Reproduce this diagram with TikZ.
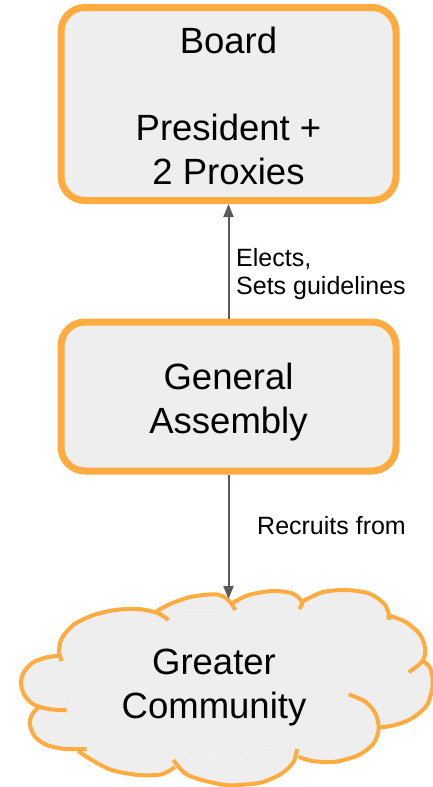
\documentclass[tikz,border=0pt]{standalone}
\usepackage{fontspec}
\setmainfont{Liberation Sans}
\usetikzlibrary{arrows.meta}
\definecolor{boxorange}{HTML}{FFAB40}
\definecolor{boxfill}{HTML}{EEEEEE}
\definecolor{arrgray}{HTML}{595959}
\begin{document}
\begin{tikzpicture}[x=1pt,y=-1pt,
  box/.style={draw=boxorange, fill=boxfill, line width=7pt, rounded corners=24pt, rectangle, minimum width=335pt, inner sep=0pt},
  bigtxt/.style={align=center, font=\fontsize{36.5pt}{44pt}\selectfont, inner sep=0pt},
  smalltxt/.style={align=left, font=\fontsize{25pt}{28pt}\selectfont, inner sep=0pt},
  conn/.style={draw=arrgray, line width=2pt, -{Triangle[length=13pt,width=10pt]}},
  puff/.style={draw=boxorange, line width=4pt},
  pufffill/.style={fill=boxfill},
]
\useasboundingbox (0,0) rectangle (432,787);

% boxes
\node[box, minimum height=193pt] (board) at (228.5,104) {};
\node[bigtxt, anchor=north] (boardtxt) at (228.5,26.5) {Board\\[43pt]President +\\2 Proxies};
\node[box, minimum height=149pt] (ga) at (228.5,396.5) {};
\node[bigtxt, anchor=north] (gatxt) at (228.5,362.4) {General\\Assembly};

% cloud fill
\def\pA{(61.7,661) (59,651.7) (61.7,638.3) (73.3,625) (91.7,615.7) (115,610) (138.3,609) (158.3,613.3) (168.3,620)}
\def\pB{(156.7,611) (171.7,603.3) (191.7,596.7) (215,594.3) (225,597.5) (231,603) (235.3,610)}
\def\pC{(232,603.3) (248.7,595) (272,591) (292,593.3) (302,601.7) (299.3,609)}
\def\pD{(302,601.7) (322,592.3) (345.3,590) (368.7,593.3) (383.7,603.3) (388.7,613.3) (388.7,620)}
\def\pE{(387,615) (405.3,621.7) (420.3,635) (425.3,650) (422,661.7) (408.7,672.3)}
\def\pF{(422,660) (430.3,668.3) (432.7,685) (427,705) (412,718.3) (395.3,725) (378.7,727.7)}
\def\pG{(348.7,694.3) (365.3,701.7) (375.3,713.3) (378.7,728.3) (373.7,743.3) (358.7,755) (335.3,761.7) (312,761) (298.7,756.7)}
\def\pH{(297,749) (293.7,761.7) (282,773.3) (262,782.3) (238.7,785) (225,785) (201.7,780) (185,773.3) (173.3,760)}
\def\pI{(175,767) (161.7,774.3) (138.3,775) (111.7,770) (91.7,760) (78.3,751)}
\def\pJ{(86.7,749) (65,749) (46.7,745) (35,736.7) (30,725) (31.7,715) (39,706.7)}
\def\pK{(66.7,710.3) (48.3,709) (33.3,704.3) (24.3,695) (21,683.3) (23.3,673.3) (31.7,663.3) (45,657.7) (58.3,655.7)}
\fill[pufffill] (61.7,661) -- (168.3,620) -- (156.7,611) -- (235.3,610) -- (232,603.3) -- (299.3,609) -- (302,601.7) -- (388.7,620) -- (387,615) -- (408.7,672.3) -- (422,660) -- (378.7,727.7) -- (348.7,694.3) -- (298.7,756.7) -- (297,749) -- (173.3,760) -- (175,767) -- (78.3,751) -- (86.7,749) -- (39,706.7) -- (66.7,710.3) -- (58.3,655.7) -- cycle;
\foreach \p in {\pA,\pB,\pC,\pD,\pE,\pF,\pG,\pH,\pI,\pJ,\pK}{
  \fill[pufffill] plot[smooth] coordinates {\p} -- cycle;
}
\foreach \p in {\pA,\pB,\pC,\pD,\pE,\pF,\pG,\pH,\pI,\pJ,\pK}{
  \draw[puff] plot[smooth] coordinates {\p};
}
\coordinate (cloudtop) at (228.5,599);
\node[bigtxt, anchor=north] (gc) at (214,648.4) {Greater\\Community};

% connectors
\draw[conn] (ga.north) -- (board.south);
\draw[conn] (ga.south) -- (cloudtop);

% labels
\node[smalltxt, anchor=north west] (elects) at (236,248) {Elects,\\Sets guidelines};
\node[smalltxt, anchor=base west] (recruits) at (257,534.3) {Recruits from};
\end{tikzpicture}
\end{document}
